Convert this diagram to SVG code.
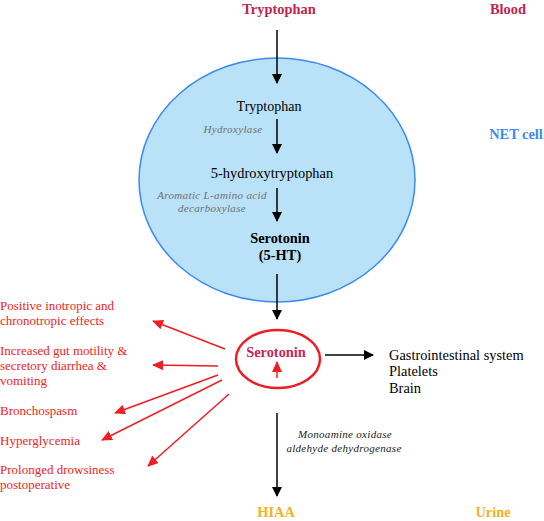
<svg xmlns="http://www.w3.org/2000/svg" width="544" height="521" viewBox="0 0 544 521">
<style>
.dg-txt{font-family:"Liberation Serif","Times New Roman",serif;font-size:14px;fill:#000;}
.dg-tgt{font-family:"Liberation Serif","Times New Roman",serif;font-size:14.4px;fill:#000;}
.dg-bold{font-family:"Liberation Serif","Times New Roman",serif;font-weight:bold;font-size:14.4px;fill:#000;}
.dg-enz{font-family:"Liberation Serif","Times New Roman",serif;font-size:11px;font-style:italic;fill:#707070;letter-spacing:0.35px;}
.dg-enzk{font-family:"Liberation Serif","Times New Roman",serif;font-size:11px;font-style:italic;fill:#222;letter-spacing:0.3px;}
.dg-hdr{font-family:"Liberation Serif","Times New Roman",serif;font-size:14.4px;font-weight:bold;fill:#c4234d;}
.dg-eff{font-family:"Liberation Serif","Times New Roman",serif;font-size:13px;fill:#f01d22;}
.dg-blk{stroke:#000;stroke-width:1.5;fill:none;marker-end:url(#ab);}
.dg-red{stroke:#f01d22;stroke-width:1.5;fill:none;marker-end:url(#ar);}
</style>
<defs>
<marker id="ab" markerWidth="10" markerHeight="10" refX="9" refY="5" orient="auto" markerUnits="userSpaceOnUse"><path d="M0,0 L10,5 L0,10 z" fill="#000"/></marker>
<marker id="ar" markerWidth="11" markerHeight="10" refX="10" refY="5" orient="auto" markerUnits="userSpaceOnUse"><path d="M0,0 L11,5 L0,10 z" fill="#f01d22"/></marker>
</defs>
<rect width="544" height="521" fill="#fff"/>

<g id="blood-label"><text x="279" y="14" class="dg-hdr" text-anchor="middle">Tryptophan</text><text x="508" y="14" class="dg-hdr" text-anchor="middle">Blood</text></g>

<g id="net-cell">
<ellipse cx="277" cy="180" rx="138" ry="122" fill="#b9e1f7" stroke="#3d8af0" stroke-width="1.5"/>
<text x="516" y="139" text-anchor="middle" style="font-family:'Liberation Serif',serif;font-size:14.4px;font-weight:bold;fill:#3d8af0">NET cell</text>
</g>

<g id="trp"><text x="269" y="111" class="dg-txt" text-anchor="middle">Tryptophan</text></g>
<g id="htp"><text x="272" y="178" class="dg-tgt" text-anchor="middle">5-hydroxytryptophan</text></g>
<g id="ht"><text x="280" y="243" class="dg-bold" text-anchor="middle">Serotonin</text><text x="280" y="260" class="dg-bold" text-anchor="middle">(5-HT)</text></g>

<g id="enzymes">
<text x="233" y="133" class="dg-enz" text-anchor="middle">Hydroxylase</text>
<text x="212" y="199" class="dg-enz" text-anchor="middle">Aromatic L-amino acid</text>
<text x="212" y="212" class="dg-enz" text-anchor="middle">decarboxylase</text>
<text x="345" y="438" class="dg-enzk" text-anchor="middle">Monoamine oxidase</text>
<text x="344" y="452" class="dg-enzk" text-anchor="middle">aldehyde dehydrogenase</text>
</g>

<g id="serotonin">
<ellipse cx="278" cy="359" rx="42" ry="29" fill="none" stroke="#ee1c24" stroke-width="2.5"/>
<text x="276" y="357" text-anchor="middle" style="font-family:'Liberation Serif',serif;font-size:14.4px;font-weight:bold;fill:#c0285a">Serotonin</text>
<line x1="277" y1="378" x2="277" y2="362" class="dg-red"/>
</g>

<g id="targets">
<text x="389" y="360" class="dg-tgt">Gastrointestinal system</text>
<text x="389" y="376" class="dg-tgt">Platelets</text>
<text x="389" y="393" class="dg-tgt">Brain</text>
</g>

<g id="effects">
<text x="0" y="310" class="dg-eff">Positive inotropic and</text>
<text x="0" y="325" class="dg-eff">chronotropic effects</text>
<text x="0" y="355" class="dg-eff">Increased gut motility &amp;</text>
<text x="0" y="370" class="dg-eff">secretory diarrhea &amp;</text>
<text x="0" y="385" class="dg-eff">vomiting</text>
<text x="0" y="415" class="dg-eff">Bronchospasm</text>
<text x="0" y="445" class="dg-eff">Hyperglycemia</text>
<text x="0" y="474" class="dg-eff">Prolonged drowsiness</text>
<text x="0" y="489" class="dg-eff">postoperative</text>
</g>

<g id="urine"><text x="276" y="517" text-anchor="middle" style="font-family:'Liberation Serif',serif;font-size:14.4px;font-weight:bold;fill:#f5b21e">HIAA</text><text x="493" y="517" text-anchor="middle" style="font-family:'Liberation Serif',serif;font-size:14.4px;font-weight:bold;fill:#f5b21e">Urine</text></g>

<g id="connectors">
<line x1="277" y1="30" x2="277" y2="83" class="dg-blk"/>
<line x1="277" y1="119" x2="277" y2="153" class="dg-blk"/>
<line x1="277" y1="188" x2="277" y2="221" class="dg-blk"/>
<line x1="277" y1="274" x2="277" y2="319" class="dg-blk"/>
<line x1="325" y1="355" x2="373" y2="355" class="dg-blk"/>
<line x1="277" y1="413" x2="277" y2="496" class="dg-blk"/>
<line x1="225" y1="349" x2="153" y2="321" class="dg-red"/>
<line x1="218" y1="366" x2="153" y2="365" class="dg-red"/>
<line x1="218" y1="375" x2="115" y2="413" class="dg-red"/>
<line x1="222" y1="380" x2="102" y2="440" class="dg-red"/>
<line x1="229" y1="394" x2="148" y2="466" class="dg-red"/>
</g>
</svg>
